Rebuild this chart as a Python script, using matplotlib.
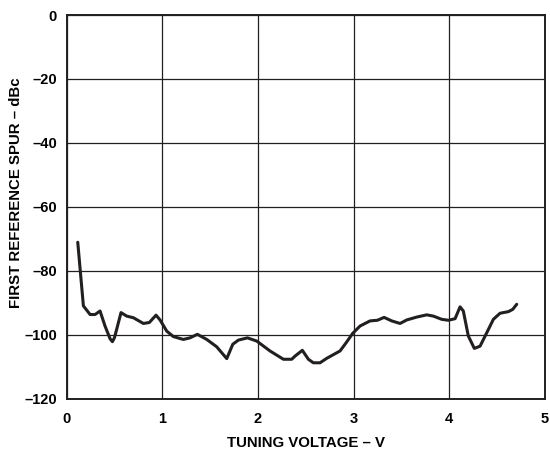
import matplotlib
matplotlib.use("Agg")
import matplotlib.pyplot as plt

# tuning voltage (V) and first reference spur (dBc)
voltage = [0.117, 0.176, 0.246, 0.298, 0.35, 0.402, 0.455, 0.479, 0.50, 0.524, 0.569, 0.629,
           0.698, 0.803, 0.865, 0.935, 0.977, 1.047, 1.116, 1.22, 1.29, 1.367,
           1.465, 1.569, 1.674, 1.737, 1.796, 1.89, 1.987, 2.126, 2.266, 2.353,
           2.388, 2.464, 2.527, 2.579, 2.649, 2.719, 2.858, 2.927, 2.99, 3.067,
           3.171, 3.248, 3.318, 3.398, 3.485, 3.555, 3.659, 3.764, 3.833, 3.92,
           3.99, 4.06, 4.112, 4.146, 4.198, 4.261, 4.321, 4.391, 4.46, 4.53,
           4.617, 4.662, 4.704]
spur = [-71.1, -91.0, -93.7, -93.7, -92.6, -97.3, -101.3, -102.2, -101.0, -98.3, -93.1, -94.2,
        -94.7, -96.5, -96.2, -93.9, -95.4, -98.9, -100.6, -101.5, -101.0, -99.9,
        -101.5, -103.8, -107.5, -103.0, -101.7, -101.0, -102.0, -105.1, -107.7, -107.7,
        -106.7, -104.9, -107.7, -108.8, -108.8, -107.4, -105.1, -102.3, -99.6, -97.3,
        -95.7, -95.5, -94.6, -95.7, -96.5, -95.4, -94.5, -93.8, -94.2, -95.2,
        -95.5, -95.0, -91.3, -92.6, -100.4, -104.3, -103.6, -99.4, -95.2, -93.3,
        -92.8, -92.1, -90.5]

xticks = [0, 1, 2, 3, 4, 5]
yticks = [0, -20, -40, -60, -80, -100, -120]

plt.rcParams['font.family'] = ['Liberation Sans', 'DejaVu Sans']
plt.rcParams['font.weight'] = 'bold'

fig = plt.figure(figsize=(5.5, 4.55), dpi=100)
ax = fig.add_axes([0.121, 0.124, 0.870, 0.843])

ax.plot(voltage, spur, color="#231f20", linewidth=2.2, solid_joinstyle="round", solid_capstyle="round")

ax.set_xlim(0, 5)
ax.set_ylim(-120, 0)
ax.set_xticks(xticks)
ax.set_yticks(yticks)
ax.set_xticklabels([str(t) for t in xticks], fontsize=10.5, fontweight="bold")
ax.set_yticklabels([str(t).replace("-", "\u2013") for t in yticks], fontsize=10.5, fontweight="bold")
ax.tick_params(length=0, pad=7)
ax.tick_params(axis="x", pad=10)
ax.grid(True, color="#231f20", linewidth=0.9)
for s in ax.spines.values():
    s.set_linewidth(1.4)
    s.set_color("#231f20")

ax.set_xlabel("TUNING VOLTAGE \u2013 V", fontsize=10.8, fontweight="bold", labelpad=7)
ax.set_ylabel("FIRST REFERENCE SPUR \u2013 dBc", fontsize=10.8, fontweight="bold")
ax.yaxis.set_label_coords(-0.092, 0.538)

fig.savefig("out.png", dpi=100)
